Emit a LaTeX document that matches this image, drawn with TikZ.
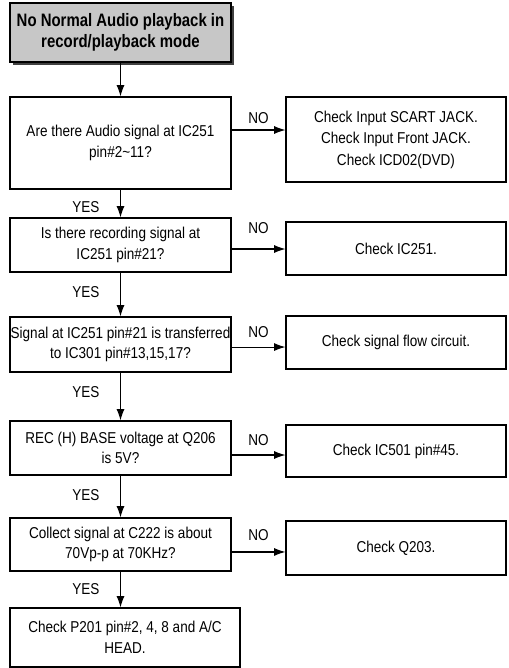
\documentclass[tikz,border=0pt]{standalone}
\usepackage{fontspec}
\setmainfont{Liberation Sans}[FakeStretch=0.86]
\newfontfamily\titlefont{Liberation Sans}[FakeStretch=0.83]
\usetikzlibrary{arrows.meta,shadows}
\tikzset{
  hop/.style={draw, line width=0.8pt, align=center, inner sep=0pt,
    font=\fontsize{11.8}{15.5}\selectfont},
  hoptrai/.style={hop, minimum width=165.75pt},
  hopphai/.style={hop, minimum width=165pt},
  nhan/.style={font=\fontsize{11.8}{14}\selectfont, inner sep=0pt},
}
\begin{document}
\begin{tikzpicture}[>={Latex[length=8.5pt,width=6pt]}, x=0.75pt, y=-0.75pt, line width=0.8pt]
    \useasboundingbox (0,0) rectangle (508,668);
    % Hộp tiêu đề
    \node[draw, fill=black!22, minimum width=165.75pt, minimum height=44.25pt,
          align=center, inner sep=0pt,
          drop shadow={shadow xshift=2.5pt, shadow yshift=-2.5pt, fill=black!75, opacity=1},
          font=\titlefont\bfseries\fontsize{13.5}{15.75}\selectfont]
          (tieude) at (120.5,32.5) {No Normal Audio playback in\\record/playback mode};

    % Các hộp bên trái
    \node[hoptrai, minimum height=69pt] (b1) at (120.5,143) {Are there Audio signal at IC251\\pin\#2\textasciitilde11?};
    \node[hoptrai, minimum height=40.5pt] (b2) at (120.5,245) {Is there recording signal at\\IC251 pin\#21?};
    \node[hoptrai, minimum height=41.25pt] (b3) at (120.5,344.5) {Signal at IC251 pin\#21 is transferred\\to IC301 pin\#13,15,17?};
    \node[hoptrai, minimum height=40.5pt] (b4) at (120.5,448) {REC (H) BASE voltage at Q206\\is 5V?};
    \node[hoptrai, minimum height=39.75pt] (b5) at (120.5,544.5) {Collect signal at C222 is about\\70Vp-p at 70KHz?};
    \node[hop, minimum width=172.5pt, minimum height=44.25pt] (b6) at (125,637.5) {Check P201 pin\#2, 4, 8 and A/C\\HEAD.};

    % Các hộp bên phải
    \node[hopphai, minimum height=63.75pt, font=\fontsize{11.8}{16.1}\selectfont] (r1) at (396,139.5) {Check Input SCART JACK.\\Check Input Front JACK.\\Check ICD02(DVD)};
    \node[hopphai, minimum height=39.75pt] (r2) at (396,248.5) {Check IC251.};
    \node[hopphai, minimum height=39.75pt] (r3) at (396,342.5) {Check signal flow circuit.};
    \node[hopphai, minimum height=39pt] (r4) at (396,451) {Check IC501 pin\#45.};
    \node[hopphai, minimum height=40.5pt] (r5) at (396,548) {Check Q203.};

    % Mũi tên YES
    \draw[->] (tieude) -- (b1);
    \draw[->] (b1) -- node[nhan, midway, xshift=-26pt, yshift=-2.5pt] {YES} (b2);
    \draw[->] (b2) -- node[nhan, midway, xshift=-26pt, yshift=2pt] {YES} (b3);
    \draw[->] (b3) -- node[nhan, midway, xshift=-26pt, yshift=3.5pt] {YES} (b4);
    \draw[->] (b4) -- node[nhan, midway, xshift=-26pt, yshift=1pt] {YES} (b5);
    \draw[->] (b5.south) -- node[nhan, midway, xshift=-26pt] {YES} (b5.south |- b6.north);

    % Mũi tên NO
    \coordinate (n1) at ([yshift=9.75pt]b1.east);
    \coordinate (n2) at ([yshift=-3pt]b2.east);
    \coordinate (n3) at ([yshift=-1.9pt]b3.east);
    \coordinate (n4) at ([yshift=-5.25pt]b4.east);
    \coordinate (n5) at ([yshift=-5.6pt]b5.east);
    \draw[->] (n1) -- node[nhan, midway, yshift=9pt] {NO} (n1 -| r1.west);
    \draw[->] (n2) -- node[nhan, midway, yshift=16pt] {NO} (n2 -| r2.west);
    \draw[->] (n3) -- node[nhan, midway, yshift=11.25pt] {NO} (n3 -| r3.west);
    \draw[->] (n4) -- node[nhan, midway, yshift=11.25pt] {NO} (n4 -| r4.west);
    \draw[->] (n5) -- node[nhan, midway, yshift=12.75pt] {NO} (n5 -| r5.west);
\end{tikzpicture}
\end{document}
